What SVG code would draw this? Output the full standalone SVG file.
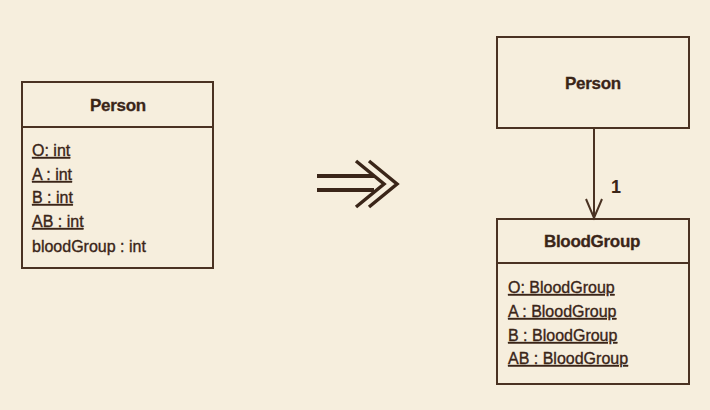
<svg xmlns="http://www.w3.org/2000/svg" width="710" height="410" viewBox="0 0 710 410">
<style>
.box{fill:none;stroke:#4a3222;stroke-width:2}
.line{stroke:#4a3222;stroke-width:2;fill:none}
.hdr{font-family:"Liberation Sans",Arial,sans-serif;font-weight:bold;font-size:17px;fill:#3a2518;stroke:#3a2518;stroke-width:0.3;text-anchor:middle;letter-spacing:-0.3px}
.attr{font-family:"Liberation Sans",Arial,sans-serif;font-size:16px;fill:#3a2518;stroke:#3a2518;stroke-width:0.35}
.u{text-decoration:underline}
.mult{font-family:"Liberation Sans",Arial,sans-serif;font-weight:bold;font-size:18px;fill:#3a2518}
</style>
<rect width="710" height="410" fill="#f6eedd"/>
<g id="person-left">
<rect class="box" x="22" y="82" width="191" height="186"/>
<line class="line" x1="22" y1="127" x2="213" y2="127"/>
<text class="hdr" x="118" y="111">Person</text>
<text class="attr u" x="32" y="156">O: int</text>
<text class="attr u" x="32" y="180">A : int</text>
<text class="attr u" x="32" y="203">B : int</text>
<text class="attr u" x="32" y="227">AB : int</text>
<text class="attr" x="32" y="252">bloodGroup : int</text>
</g>
<g id="transform-arrow">
<path d="M317 176H374M317 190H374" stroke="#3a2518" stroke-width="4" fill="none"/>
<path d="M356 161L384 184L356 207M369 161L397 184L369 207" stroke="#3a2518" stroke-width="3.5" fill="none"/>
</g>
<g id="person-right">
<rect class="box" x="497" y="37" width="192" height="91"/>
<text class="hdr" x="593" y="89">Person</text>
</g>
<g id="bloodgroup">
<rect class="box" x="497" y="219" width="192" height="165"/>
<line class="line" x1="497" y1="263" x2="689" y2="263"/>
<text class="hdr" x="592" y="247">BloodGroup</text>
<text class="attr u" x="508" y="293">O: BloodGroup</text>
<text class="attr u" x="508" y="317">A : BloodGroup</text>
<text class="attr u" x="508" y="341">B : BloodGroup</text>
<text class="attr u" x="508" y="364">AB : BloodGroup</text>
</g>
<g id="connectors">
<line class="line" x1="594" y1="128" x2="594" y2="217"/>
<path class="line" d="M586 199L594 218L602 199"/>
<text class="mult" x="611" y="193">1</text>
</g>
</svg>
